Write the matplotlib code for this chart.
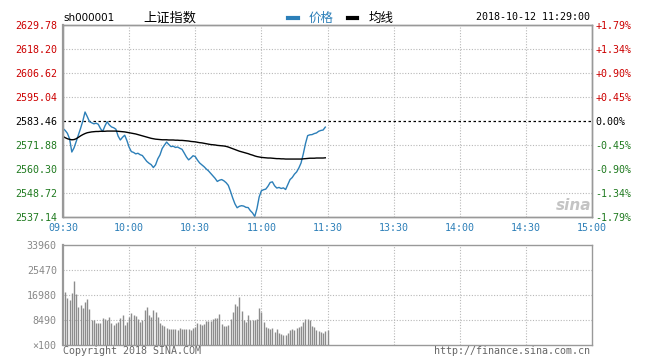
import numpy as np
import matplotlib
matplotlib.use("Agg")
import matplotlib.pyplot as plt

# previous close and axis levels
prev_close = 2583.46
price_levels = [2537.14, 2548.72, 2560.30, 2571.88, 2583.46, 2595.04, 2606.62, 2618.20, 2629.78]
vol_levels = [0, 8490, 16980, 25470, 33960]
vol_labels = ["\u00d7100", "8490", "16980", "25470", "33960"]
time_labels = ["09:30", "10:00", "10:30", "11:00", "11:30", "13:30", "14:00", "14:30", "15:00"]

# minute-by-minute price (09:30 .. 11:29)
price = [
    2579.8, 2578.9, 2577.5, 2574.8, 2568.5, 2570.5, 2573.6, 2576.8, 2580.0, 2583.5,
    2587.8, 2585.6, 2583.2, 2582.6, 2582.1, 2582.4, 2581.9, 2579.8, 2578.4, 2581.0,
    2583.1, 2581.6, 2580.6, 2580.2, 2579.5, 2576.2, 2574.3, 2575.6, 2576.6, 2574.0,
    2570.8, 2568.7, 2568.3, 2567.6, 2567.9, 2567.2, 2566.8, 2565.4, 2564.0, 2563.1,
    2562.4, 2561.0, 2562.3, 2565.2, 2567.1, 2570.2, 2571.8, 2573.3, 2572.1, 2571.1,
    2571.3, 2570.7, 2570.9, 2570.3, 2569.8, 2568.0, 2566.1, 2564.7, 2565.6, 2566.7,
    2566.3, 2564.6, 2563.2, 2562.3, 2561.4, 2560.3, 2559.4, 2558.2, 2557.0, 2555.8,
    2554.3, 2554.9, 2555.2, 2554.6, 2553.7, 2552.4, 2549.5, 2546.3, 2543.5, 2541.6,
    2542.3, 2542.6, 2542.4, 2541.8, 2541.7, 2540.2, 2539.1, 2537.4, 2541.2, 2546.8,
    2549.8, 2550.3, 2550.6, 2552.0, 2553.8, 2554.1, 2552.2, 2551.1, 2551.4, 2550.9,
    2551.2, 2550.4, 2552.8, 2555.2, 2556.2, 2557.8, 2558.9, 2560.8, 2563.2, 2567.5,
    2572.5, 2576.4, 2576.8, 2576.9, 2577.4, 2577.7, 2578.5, 2578.9, 2579.1, 2580.5,
]

# average price line
avg = [
    2576.0, 2575.4, 2574.9, 2574.6, 2574.4, 2574.5, 2574.9, 2575.6, 2576.3, 2576.9,
    2577.4, 2577.8, 2578.0, 2578.2, 2578.3, 2578.4, 2578.4, 2578.5, 2578.5, 2578.5,
    2578.6, 2578.6, 2578.6, 2578.6, 2578.6, 2578.5, 2578.4, 2578.3, 2578.2, 2578.0,
    2577.8, 2577.6, 2577.4, 2577.2, 2576.9, 2576.6, 2576.3, 2576.0, 2575.7, 2575.4,
    2575.1, 2574.9, 2574.7, 2574.6, 2574.5, 2574.4, 2574.4, 2574.4, 2574.3, 2574.3,
    2574.3, 2574.2, 2574.2, 2574.1, 2574.1, 2574.0, 2573.9, 2573.8, 2573.6, 2573.5,
    2573.4, 2573.2, 2573.0, 2572.9, 2572.7, 2572.5, 2572.3, 2572.1, 2572.0, 2571.9,
    2571.7, 2571.6, 2571.5, 2571.4, 2571.2, 2570.9, 2570.5, 2570.1, 2569.7, 2569.3,
    2568.9, 2568.6, 2568.3, 2568.0, 2567.7, 2567.3, 2567.0, 2566.6, 2566.3, 2566.1,
    2565.9, 2565.8, 2565.7, 2565.6, 2565.6, 2565.5, 2565.4, 2565.3, 2565.3, 2565.2,
    2565.2, 2565.1, 2565.1, 2565.1, 2565.1, 2565.1, 2565.1, 2565.1, 2565.1, 2565.2,
    2565.3, 2565.4, 2565.5, 2565.5, 2565.5, 2565.6, 2565.6, 2565.6, 2565.6, 2565.7,
]

# volume per minute (x100 shares)
volume = [
    18100, 15800, 15300, 17500, 21700, 17400, 13000, 13600, 12400, 14700,
    15600, 12100, 8500, 8500, 7400, 7400, 7400, 9100, 8800, 8500,
    9600, 7400, 6800, 7400, 7700, 9100, 10200, 6700, 7700, 9600,
    10800, 10200, 9800, 8800, 7800, 8600, 11800, 13000, 10200, 9600,
    12000, 11200, 9400, 7500, 6700, 6600, 5800, 5500, 5300, 5600,
    5400, 5200, 5700, 5500, 5400, 5600, 5300, 5200, 5900, 6200,
    7500, 7000, 6900, 7300, 8200, 8000, 8200, 8800, 9300, 9000,
    10400, 7200, 6500, 6300, 6800, 8900, 11300, 13800, 13400, 16400,
    11500, 8500, 7700, 10200, 8500, 8500, 8600, 8800, 12400, 11300,
    7900, 6200, 5700, 5400, 5900, 4500, 5400, 4200, 3600, 3400,
    3400, 4000, 5100, 5400, 5100, 5700, 6200, 6600, 7700, 8800,
    8800, 8500, 6600, 6200, 5100, 4800, 4500, 4000, 4800, 5000,
]

W, H = 657, 361
RED = "#cc0000"
GREEN = "#1f7a1f"
BLUE = "#2c7fb8"
GRIDC = "#b8b8b8"
SPINE = "#999999"
MONO = "DejaVu Sans Mono"
CJK = ["Noto Sans CJK SC", "DejaVu Sans"]


def fx(x):
    return x / W


def fy(y):
    return 1 - y / H


fig = plt.figure(figsize=(W / 100, H / 100), dpi=100)
fig.patch.set_facecolor("white")

# ---- price panel ----
ax = fig.add_axes([fx(63), fy(217), fx(592) - fx(63), fy(25) - fy(217)])
minutes = np.arange(len(price))
ax.plot(minutes, price, color=BLUE, lw=1.0, zorder=3)
ax.plot(minutes, avg, color="black", lw=1.0, zorder=3)
ax.set_xlim(0, 240)
ax.set_ylim(price_levels[0], price_levels[-1])

for lv in price_levels[1:-1]:
    if abs(lv - prev_close) < 1e-6:
        ax.axhline(lv, color="black", lw=0.9, ls=(0, (2, 2)), zorder=2)
    else:
        ax.axhline(lv, color=GRIDC, lw=0.8, ls=(0, (1, 1.5)), zorder=1)
for t in range(30, 240, 30):
    ax.axvline(t, color=GRIDC, lw=0.8, ls=(0, (1, 1.5)), zorder=1)

ax.set_yticks(price_levels)
ax.set_yticklabels(["%.2f" % v for v in price_levels], fontfamily=MONO, fontsize=7.2)
for lab, v in zip(ax.get_yticklabels(), price_levels):
    if v > prev_close + 1e-6:
        lab.set_color(RED)
    elif v < prev_close - 1e-6:
        lab.set_color(GREEN)
    else:
        lab.set_color("black")
ax.set_xticks(range(0, 241, 30))
ax.set_xticklabels(time_labels, fontfamily=MONO, fontsize=7.2, color=BLUE)
ax.tick_params(length=0, pad=4.5)

ax2 = ax.twinx()
ax2.set_ylim(ax.get_ylim())
ax2.set_yticks(price_levels)
pct = [(v - prev_close) / prev_close * 100 for v in price_levels]
pct_txt = []
for p in pct:
    if abs(p) < 0.005:
        pct_txt.append("0.00%")
    elif p > 0:
        pct_txt.append("+%.2f%%" % p)
    else:
        pct_txt.append("%.2f%%" % p)
ax2.set_yticklabels(pct_txt, fontfamily=MONO, fontsize=7.2)
for lab, p in zip(ax2.get_yticklabels(), pct):
    lab.set_color(RED if p > 0.005 else (GREEN if p < -0.005 else "black"))
ax2.tick_params(length=0, pad=2.5)

for a in (ax, ax2):
    for s in a.spines.values():
        s.set_color(SPINE)
        s.set_linewidth(1.0)
ax.spines["left"].set_linewidth(1.6)

# ---- volume panel ----
bx = fig.add_axes([fx(63), fy(345), fx(592) - fx(63), fy(245) - fy(345)])
bx.vlines(np.arange(len(volume)) + 1, 0, volume, color="#8c8c8c", lw=1.0, zorder=3)
bx.set_xlim(0, 240)
bx.set_ylim(0, vol_levels[-1])
for lv in vol_levels[1:-1]:
    bx.axhline(lv, color=GRIDC, lw=0.8, ls=(0, (1, 1.5)), zorder=1)
for t in range(30, 240, 30):
    bx.axvline(t, color=GRIDC, lw=0.8, ls=(0, (1, 1.5)), zorder=1)
bx.set_yticks(vol_levels)
bx.set_yticklabels(vol_labels, fontfamily=MONO, fontsize=7.2, color="#888888")
bx.set_xticks([])
bx.tick_params(length=0, pad=4.5)
for s in bx.spines.values():
    s.set_color(SPINE)
    s.set_linewidth(1.0)
bx.spines["left"].set_linewidth(1.6)

# ---- header and footer texts ----
fig.text(fx(63), fy(18), "sh000001", fontsize=7.5, va="center", ha="left", color="black")
fig.text(fx(170), fy(18), "上证指数", fontsize=9.5, va="center", ha="center",
         family=CJK, color="black")
fig.add_artist(plt.Line2D([fx(288), fx(298)], [fy(18), fy(18)], color=BLUE, lw=3))
fig.text(fx(309), fy(18), "价格", fontsize=9, va="center", ha="left", family=CJK, color=BLUE)
fig.add_artist(plt.Line2D([fx(348), fx(357)], [fy(18), fy(18)], color="black", lw=3))
fig.text(fx(369), fy(18), "均线", fontsize=9, va="center", ha="left", family=CJK, color="black")
fig.text(fx(590), fy(17), "2018-10-12 11:29:00", fontfamily=MONO, fontsize=7.2,
         va="center", ha="right", color="black")
fig.text(fx(591), fy(206), "sina", fontsize=11, fontweight="bold", style="italic",
         va="center", ha="right", color="#c4c4c4")
fig.text(fx(63), fy(351), "Copyright 2018 SINA.COM", fontfamily=MONO, fontsize=7.2,
         va="center", ha="left", color="#666666")
fig.text(fx(590), fy(351), "http://finance.sina.com.cn", fontfamily=MONO, fontsize=7.2,
         va="center", ha="right", color="#666666")

fig.savefig("out.png", dpi=100)
